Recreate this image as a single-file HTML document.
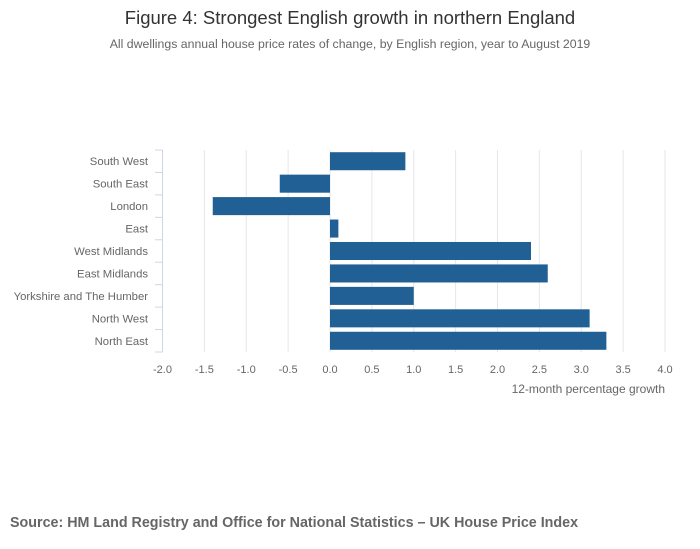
<!DOCTYPE html>
<html><head><meta charset="utf-8"><style>
body{margin:0;background:#fff;font-family:"Liberation Sans",sans-serif;}
#wrap{position:relative;width:700px;height:549px;overflow:hidden;}
</style></head><body>
<div id="wrap">
<svg id="chart" width="700" height="549">
<text x="350" y="24" text-anchor="middle" font-size="18.5" fill="#333">Figure 4: Strongest English growth in northern England</text>
<text x="350" y="48" text-anchor="middle" font-size="12.3" fill="#666">All dwellings annual house price rates of change, by English region, year to August 2019</text>
<text x="10" y="527" font-size="14.3" font-weight="bold" fill="#666">Source: HM Land Registry and Office for National Statistics – UK House Price Index</text>
<text x="665" y="393" text-anchor="end" font-size="12" fill="#666">12-month percentage growth</text>
<g id="grid"></g><g id="bars"></g><g id="axes"></g>
</svg>
</div>
<script>
const categories=["South West","South East","London","East","West Midlands","East Midlands","Yorkshire and The Humber","North West","North East"];
const values=[0.9,-0.6,-1.4,0.1,2.4,2.6,1.0,3.1,3.3];
const ticks=[-2.0,-1.5,-1.0,-0.5,0.0,0.5,1.0,1.5,2.0,2.5,3.0,3.5,4.0];
const NS="http://www.w3.org/2000/svg";
const L=162.5,R=665,T=150,B=352;
const xMin=-2,xMax=4;
function x(v){return L+(v-xMin)/(xMax-xMin)*(R-L);}
const band=(B-T)/categories.length;
function y(i){return T+i*band;}
function mk(tag,attrs,parent){const e=document.createElementNS(NS,tag);for(const k in attrs)e.setAttribute(k,attrs[k]);document.getElementById(parent).appendChild(e);return e;}
ticks.forEach(t=>{
  if(t!==xMin){const g=mk('line',{x1:x(t),x2:x(t),y1:T,y2:B,stroke:'#e6e6e6','stroke-width':1},'grid');
  
  }
  const lb=mk('text',{x:x(t),y:373,'text-anchor':'middle','font-size':11,fill:'#666'},'axes');
  lb.textContent=t.toFixed(1);
  
  
});
values.forEach((v,i)=>{
  const x0=Math.min(x(0),x(v)),w=Math.abs(x(v)-x(0));
  const r=mk('rect',{x:x0,y:y(i)+2.2,width:w,height:band-4.4,fill:'#206095'},'bars');
  
  
  const lb=mk('text',{x:148,y:y(i)+band/2+4,'text-anchor':'end','font-size':11.3,fill:'#666'},'axes');
  lb.textContent=categories[i];
  
  
});
for(let i=0;i<=categories.length;i++){
  const tk=mk('line',{x1:155,x2:L,y1:y(i),y2:y(i),stroke:'#ccd6eb','stroke-width':1},'axes');
  
  
}
const ax=mk('line',{x1:L,x2:L,y1:T,y2:B,stroke:'#ccd6eb','stroke-width':1},'axes');


</script>
</body></html>
